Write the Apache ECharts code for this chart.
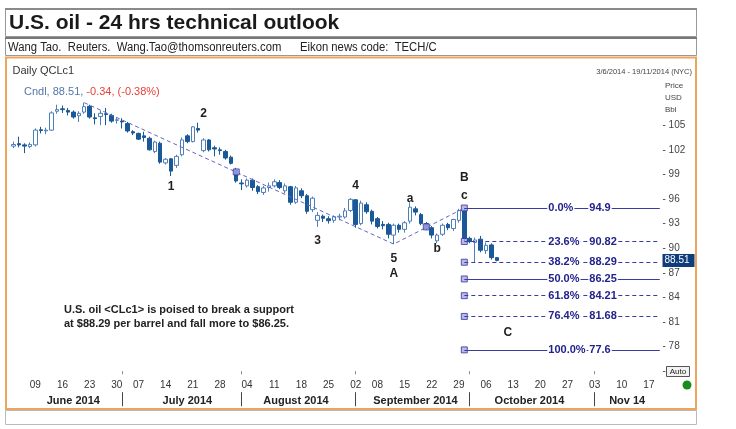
<!DOCTYPE html>
<html><head><meta charset="utf-8">
<script src="https://cdn.jsdelivr.net/npm/echarts@6/dist/echarts.min.js"></script>
<style>html,body{margin:0;padding:0;background:#fff}#c{width:736px;height:429px}</style>
</head><body><div id="c"></div><script>
// ---------- calendar (categories) ----------
const startDate = '2014-06-03', endDate = '2014-11-19';
const holidays = ['2014-07-04', '2014-09-01'];
function buildDays(s, e, hol) {
  const out = []; const d = new Date(s + 'T00:00:00Z'); const end = new Date(e + 'T00:00:00Z');
  while (d <= end) {
    const wd = d.getUTCDay(); const iso = d.toISOString().slice(0, 10);
    if (wd !== 0 && wd !== 6 && !hol.includes(iso)) out.push(iso);
    d.setUTCDate(d.getUTCDate() + 1);
  }
  return out;
}
const dates = buildDays(startDate, endDate, holidays);

// ---------- daily candles (June 3 - Oct 8, 2014) ----------
const opens  = [102.45,102.75,102.6,102.4,102.6,104.45,104.3,104.4,106.7,107.0,106.8,106.6,106.15,106.6,107.3,105.9,106.05,106.4,106.2,105.6,105.5,105.2,104.2,104.0,103.7,103.4,101.8,102.8,100.4,100.9,100.1,101.4,103.7,103.0,104.6,101.9,103.2,102.25,102.0,101.8,101.1,99.5,97.95,97.6,98.3,97.5,96.8,97.4,97.6,98.0,97.0,97.5,95.6,97.0,96.4,94.7,93.4,93.9,93.6,93.4,93.8,93.8,94.6,95.9,93.0,95.3,94.5,93.6,92.9,92.9,91.6,92.8,92.3,93.3,94.8,94.1,93.0,92.5,90.9,91.7,92.9,92.4,93.4,94.6,91.2,90.7,91.1,89.7,90.4,88.85];
const closes = [102.65,102.6,102.45,102.65,104.4,104.35,104.4,106.5,106.9,106.9,106.6,106.0,106.45,107.26,106.0,105.8,106.45,106.3,105.5,105.65,105.4,104.3,104.05,103.3,103.5,102.0,102.95,100.5,100.85,99.4,101.2,103.2,103.0,104.8,104.4,103.2,102.0,102.1,101.9,101.0,100.35,98.2,97.85,98.3,97.4,96.9,97.35,97.6,98.1,97.4,97.6,95.6,97.35,96.4,94.5,96.1,94.0,93.65,93.35,93.85,93.9,94.55,95.96,92.9,95.5,94.45,93.3,92.65,92.75,91.7,92.8,92.3,93.1,95.0,94.4,93.0,92.4,91.6,91.6,92.8,92.5,93.5,94.6,91.2,90.8,91.0,89.75,90.35,88.85,88.51];
const lows   = [102.2,102.3,101.6,102.2,102.4,104.0,103.9,104.3,106.4,106.5,106.2,105.8,105.4,106.4,105.8,105.1,105.0,105.0,105.3,105.2,104.6,104.1,103.8,103.2,103.0,101.9,101.6,100.3,100.2,98.8,99.8,101.2,102.8,102.9,104.1,101.7,101.8,101.2,101.4,100.8,100.2,98.0,97.1,97.4,97.0,96.6,96.5,96.9,97.4,97.2,96.7,95.3,95.4,96.1,94.2,94.4,92.6,93.2,93.0,93.1,93.4,93.6,94.4,92.5,92.8,94.2,92.9,92.4,92.3,91.2,90.5,91.9,91.9,93.0,94.0,92.8,92.2,91.2,90.6,91.5,92.2,92.1,93.1,90.9,90.6,88.3,89.5,89.3,88.6,88.4];
const highs  = [103.0,103.6,102.8,102.9,104.6,104.8,104.7,106.7,107.5,107.4,107.1,106.8,106.7,107.75,107.5,106.45,106.8,107.1,106.4,105.9,105.85,105.4,104.4,104.1,104.2,103.6,103.1,103.0,101.0,101.0,101.4,103.5,103.9,104.9,105.3,103.4,103.3,102.5,102.3,102.0,101.3,99.8,98.4,98.5,98.5,97.7,97.6,98.0,98.4,98.3,97.9,97.6,97.6,97.3,96.6,96.3,94.4,94.1,93.9,94.0,94.2,94.9,96.1,96.0,95.8,95.6,94.7,93.8,93.3,93.1,93.0,93.0,93.3,95.6,95.1,94.3,93.2,92.7,91.8,93.0,93.1,93.6,94.8,94.9,91.4,91.3,91.5,90.7,90.6,88.9];

// ---------- Fibonacci retracement ----------
const fibPct    = ['0.0%','23.6%','38.2%','50.0%','61.8%','76.4%','100.0%'];
const fibVal    = [94.9, 90.82, 88.29, 86.25, 84.21, 81.68, 77.6];
const fibDashed = [false, true, true, false, true, true, false];
const fibStartIdx = 83, fibEndIdx = 119;

// ---------- Elliott wave annotations ----------
const waveIdx = [13, 70, 83];
const wavePx  = [107.75, 90.5, 94.9];
const handleIdx = [41, 76];
const handlePx  = [99.3, 92.6];
const waveLabels   = ['1','2','3','4','5','A','a','b','B','c','C'];
const waveLabelIdx = [29, 35, 56, 63, 70, 70, 73, 78, 83, 83, 91];
const waveLabelPx  = [97.46,106.37,90.88,97.59,88.68,86.85,96.0,89.9,98.56,96.37,79.66];

// ---------- axis labels ----------
const monthNames    = ['June 2014','July 2014','August 2014','September 2014','October 2014','Nov 14'];
const monthLabelIdx = [11, 32, 52, 74, 95, 113];
const yLabelMin = 78, yLabelMax = 105;

const SANS = "'Liberation Sans',Arial,sans-serif";
const CLEAR = 'rgba(0,0,0,0)';
const handleStyle = { color: '#a8a8e4', borderColor: '#34349a', borderWidth: 1 };

const dow = s => new Date(s + 'T00:00:00Z').getUTCDay();
const isWeekStart = i => i > 0 && dow(dates[i]) < dow(dates[i - 1]);
const isMonthStart = i => i > 0 && dates[i].slice(5, 7) !== dates[i - 1].slice(5, 7);

const lastClose = closes[closes.length - 1];
const prevClose = closes[closes.length - 2];
const chg = lastClose - prevClose;
const chgPct = chg / prevClose * 100;

const candleData = opens.map((o, i) => [o, closes[i], lows[i], highs[i]]);

const fibLines = [];
fibVal.forEach((v, k) => {
  const ls = { color: '#3a3aa6', width: 1.2, type: fibDashed[k] ? [4, 3] : 'solid' };
  const lab = { show: true, position: 'insideStart', color: '#22228c', fontWeight: 'bold', fontSize: 11, fontFamily: SANS, backgroundColor: '#fff', padding: [0, 1] };
  fibLines.push([
    { coord: [fibStartIdx, v], lineStyle: ls, label: Object.assign({}, lab, { formatter: fibPct[k], distance: 83 }) },
    { coord: [fibEndIdx, v], lineStyle: ls }
  ]);
  fibLines.push([
    { coord: [fibStartIdx, v], lineStyle: { color: CLEAR, width: 0 }, label: Object.assign({}, lab, { formatter: String(v), distance: 124 }) },
    { coord: [fibEndIdx, v], lineStyle: { color: CLEAR, width: 0 } }
  ]);
});
fibLines.push({ yAxis: lastClose, lineStyle: { color: CLEAR, width: 0 },
  label: { show: true, position: 'end', distance: 0, formatter: lastClose.toFixed(2), color: '#fff', backgroundColor: '#0e3d7c', padding: [2, 5, 1, 2], fontSize: 10, fontFamily: SANS } });

const chart = echarts.init(document.getElementById('c'), null, { renderer: 'canvas' });
chart.setOption({
  animation: false,
  backgroundColor: '#fff',
  grid: { left: 10.9, right: 73.5, top: 76, height: 295.2 },
  xAxis: [{
    type: 'category', data: dates, boundaryGap: true,
    axisLine: { show: false },
    axisTick: { show: true, alignWithLabel: true, length: 3, interval: (i) => isMonthStart(i), lineStyle: { color: '#888' } },
    axisLabel: { interval: (i) => isWeekStart(i), formatter: v => v.slice(8, 10), margin: 9, fontSize: 10, color: '#333', fontFamily: SANS },
    splitLine: { show: false }
  }, {
    type: 'category', data: dates, boundaryGap: true, position: 'bottom', offset: 21,
    axisLine: { show: false },
    axisTick: { show: true, alignWithLabel: true, length: 14, interval: (i) => isMonthStart(i), lineStyle: { color: '#444' } },
    axisLabel: { interval: (i) => monthLabelIdx.includes(i), formatter: (v, i) => monthNames[monthLabelIdx.indexOf(i)] || '', margin: 3, fontSize: 11, fontWeight: 'bold', color: '#222', fontFamily: SANS },
    splitLine: { show: false }
  }],
  yAxis: {
    type: 'value', position: 'right', min: 75, max: 111, interval: 3,
    axisLine: { show: false }, axisTick: { show: false }, splitLine: { show: false },
    axisLabel: { margin: 0, fontSize: 10, color: '#444', fontFamily: SANS,
      formatter: v => (v >= yLabelMin && v <= yLabelMax) ? '- ' + v : (v === 75 ? '-' : '') }
  },
  series: [{
    type: 'candlestick', data: candleData, barWidth: 4,
    itemStyle: { color: '#ffffff', borderColor: '#4d7fb9', color0: '#1b5897', borderColor0: '#1b5897', borderWidth: 1 },
    markLine: { silent: true, symbol: ['none', 'none'], animation: false, data: fibLines }
  }, {
    type: 'line', data: waveIdx.map((x, i) => [x, wavePx[i]]),
    symbol: 'rect', symbolSize: 6, showSymbol: true,
    lineStyle: { color: '#6464c4', width: 1, type: [4, 3] },
    itemStyle: handleStyle, z: 3
  }, {
    type: 'scatter', data: handleIdx.map((x, i) => [x, handlePx[i]]).concat(fibVal.map(v => [fibStartIdx, v])),
    symbol: 'rect', symbolSize: 6, itemStyle: handleStyle, z: 4
  }, {
    type: 'scatter', symbol: 'circle', symbolSize: 0, itemStyle: { color: '#222' },
    data: waveLabels.map((t, i) => ({ name: t, value: [waveLabelIdx[i], waveLabelPx[i]] })),
    label: { show: true, position: 'inside', formatter: '{b}', fontSize: 12, fontWeight: 'bold', color: '#1e1e1e', textBorderWidth: 0, opacity: 1, fontFamily: SANS }, z: 5
  }],
  graphic: [
    // header boxes
    { type: 'rect', shape: { x: 5.5, y: 9.5, width: 691, height: 27 }, style: { fill: '#fff', stroke: '#999', lineWidth: 1 } },
    { type: 'rect', shape: { x: 5, y: 8, width: 692, height: 2 }, style: { fill: '#8a8a8a' } },
    { type: 'text', x: 9, y: 23, style: { text: 'U.S. oil - 24 hrs technical outlook', font: 'bold 21px ' + SANS, fill: '#1a1a1a', textVerticalAlign: 'middle' } },
    { type: 'rect', shape: { x: 5.5, y: 37.5, width: 691, height: 18 }, style: { fill: '#fff', stroke: '#999', lineWidth: 1 } },
    { type: 'rect', shape: { x: 5, y: 37, width: 692, height: 2 }, style: { fill: '#777' } },
    { type: 'text', x: 8, y: 48, scaleX: 0.94, style: { text: 'Wang Tao.  Reuters.  Wang.Tao@thomsonreuters.com', font: '12px ' + SANS, fill: '#222', textVerticalAlign: 'middle' } },
    { type: 'text', x: 300, y: 48, scaleX: 0.94, style: { text: 'Eikon news code:  TECH/C', font: '12px ' + SANS, fill: '#222', textVerticalAlign: 'middle' } },
    // chart frame
    { type: 'rect', shape: { x: 6, y: 57.5, width: 690, height: 351.5 }, style: { fill: 'none', stroke: '#eda45f', lineWidth: 2 } },
    { type: 'rect', shape: { x: 5.5, y: 410.5, width: 691, height: 14 }, style: { fill: '#fff', stroke: '#bbb', lineWidth: 1 } },
    // chart captions
    { type: 'text', x: 12.5, y: 71, style: { text: 'Daily QCLc1', font: '11px ' + SANS, fill: '#333', textVerticalAlign: 'middle' } },
    { type: 'text', x: 24, y: 92, style: { text: '{b|Cndl, ' + lastClose.toFixed(2) + ', }{r|' + chg.toFixed(2) + ', (' + chgPct.toFixed(2) + '%)}',
        font: '11px ' + SANS, textVerticalAlign: 'middle',
        rich: { b: { fill: '#5577aa', color: '#5577aa', font: '11px ' + SANS }, r: { fill: '#e8413a', color: '#e8413a', font: '11px ' + SANS } } } },
    { type: 'text', x: 692, y: 72, style: { text: '3/6/2014 - 19/11/2014 (NYC)', font: '7.5px ' + SANS, fill: '#444', textAlign: 'right', textVerticalAlign: 'middle' } },
    { type: 'text', x: 665, y: 86, style: { text: 'Price', font: '8px ' + SANS, fill: '#444', textVerticalAlign: 'middle' } },
    { type: 'text', x: 665, y: 97.5, style: { text: 'USD', font: '8px ' + SANS, fill: '#444', textVerticalAlign: 'middle' } },
    { type: 'text', x: 665, y: 109.5, style: { text: 'Bbl', font: '8px ' + SANS, fill: '#444', textVerticalAlign: 'middle' } },
    { type: 'text', x: 64, y: 310, style: { text: 'U.S. oil <CLc1> is poised to break a support', font: 'bold 11px ' + SANS, fill: '#222', textVerticalAlign: 'middle' } },
    { type: 'text', x: 64, y: 324, style: { text: 'at $88.29 per barrel and fall more to $86.25.', font: 'bold 11px ' + SANS, fill: '#222', textVerticalAlign: 'middle' } },
    // Auto button and status dot
    { type: 'rect', shape: { x: 666.5, y: 366.5, width: 23, height: 10 }, style: { fill: '#f2f2f2', stroke: '#555', lineWidth: 1 } },
    { type: 'text', x: 678, y: 371.5, style: { text: 'Auto', font: '8px ' + SANS, fill: '#222', textAlign: 'center', textVerticalAlign: 'middle' } },
    { type: 'circle', shape: { cx: 687, cy: 385, r: 4.5 }, style: { fill: '#1c8a1c' } }
  ]
});
</script></body></html>
